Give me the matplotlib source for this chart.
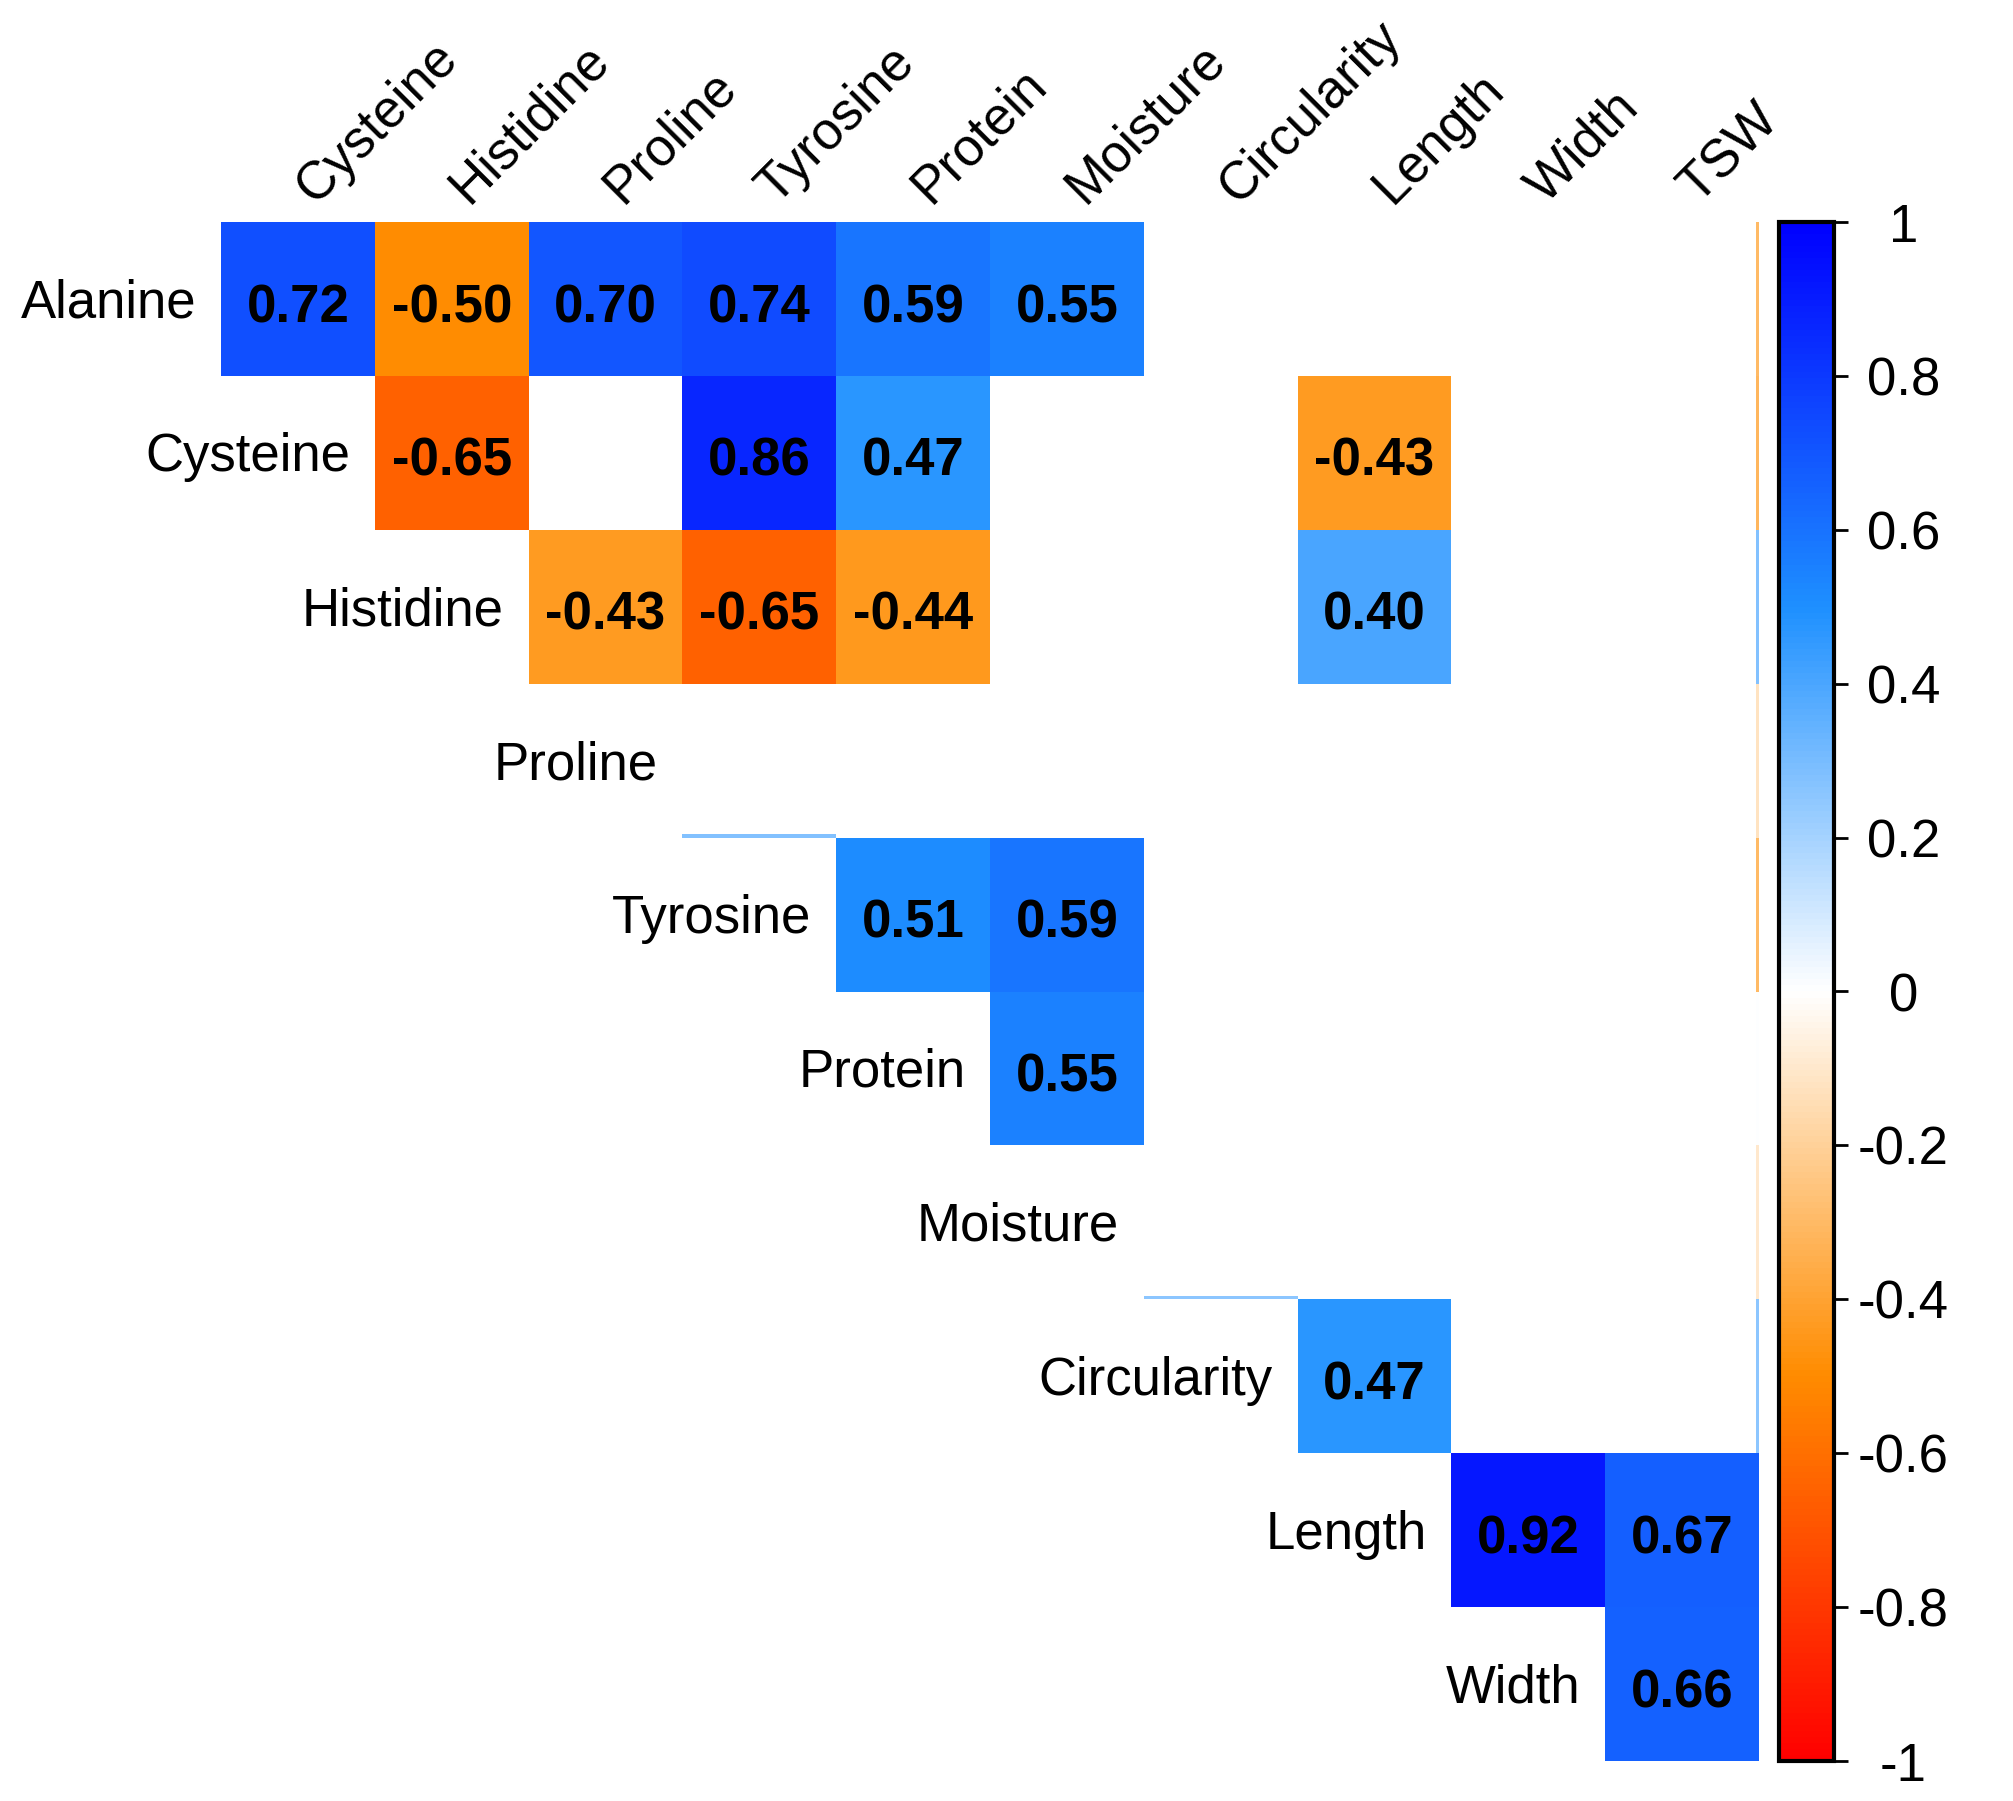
import numpy as np
import matplotlib
matplotlib.use("Agg")
import matplotlib.pyplot as plt
from matplotlib.colors import LinearSegmentedColormap, Normalize
from matplotlib.patches import Rectangle
import matplotlib.colorbar as mcolorbar

plt.rcParams['font.family'] = ['Liberation Sans', 'DejaVu Sans']

row_labels = ["Alanine", "Cysteine", "Histidine", "Proline", "Tyrosine",
              "Protein", "Moisture", "Circularity", "Length", "Width"]
col_labels = ["Cysteine", "Histidine", "Proline", "Tyrosine", "Protein",
              "Moisture", "Circularity", "Length", "Width", "TSW"]

# significant correlations: (row, column, value)
sig_rows = [0, 0, 0, 0, 0, 0, 1, 1, 1, 1, 2, 2, 2, 2, 4, 4, 5, 7, 8, 8, 9]
sig_cols = [0, 1, 2, 3, 4, 5, 1, 3, 4, 7, 2, 3, 4, 7, 4, 5, 5, 7, 8, 9, 9]
sig_vals = [0.72, -0.50, 0.70, 0.74, 0.59, 0.55,
            -0.65, 0.86, 0.47, -0.43,
            -0.43, -0.65, -0.44, 0.40,
            0.51, 0.59,
            0.55,
            0.47,
            0.92, 0.67,
            0.66]

# faint edge slivers of non-significant cells (rendering remnants)
vsliver_rows = [0, 1, 2, 3, 4, 5, 6, 7]
vsliver_vals = [-0.30, -0.32, 0.28, -0.12, -0.30, 0.0, -0.10, 0.25]
hsliver_rows = [3, 6]
hsliver_cols = [3, 6]
hsliver_vals = [0.28, 0.25]

cbar_ticks = [-1, -0.8, -0.6, -0.4, -0.2, 0, 0.2, 0.4, 0.6, 0.8, 1]

cmap = LinearSegmentedColormap.from_list(
    "corr", ["#FF0000", "#FF8C00", "#FFFFFF", "#1E90FF", "#0000FF"], N=256)
norm = Normalize(-1, 1)

W, H = 2013, 1801
fig = plt.figure(figsize=(W / 100, H / 100), dpi=100)
gx0, gx1, gy0, gy1 = 221, 1759, 222, 1761
ax = fig.add_axes([gx0 / W, 1 - gy1 / H, (gx1 - gx0) / W, (gy1 - gy0) / H])
n = len(col_labels)
ax.set_xlim(0, n)
ax.set_ylim(len(row_labels), 0)
ax.axis('off')

mat = np.full((len(row_labels), n), np.nan)
for r, c, v in zip(sig_rows, sig_cols, sig_vals):
    mat[r, c] = v
ax.pcolormesh(np.arange(n + 1), np.arange(len(row_labels) + 1),
              np.ma.masked_invalid(mat), cmap=cmap, norm=norm,
              edgecolors='none', antialiased=False)

sw = 0.022
for r, v in zip(vsliver_rows, vsliver_vals):
    ax.add_patch(Rectangle((n - sw, r), sw, 1, facecolor=cmap(norm(v)),
                           edgecolor='none'))
for r, c, v in zip(hsliver_rows, hsliver_cols, hsliver_vals):
    ax.add_patch(Rectangle((c, r + 1 - sw), 1, sw, facecolor=cmap(norm(v)),
                           edgecolor='none'))

fs = 38
for r, c, v in zip(sig_rows, sig_cols, sig_vals):
    ax.text(c + 0.5, r + 0.65, f"{v:.2f}", ha='center', va='baseline',
            fontsize=fs, fontweight='bold', color='black')

for i, lab in enumerate(row_labels):
    ax.text(i - 0.16, i + 0.62, lab, ha='right', va='baseline', fontsize=fs,
            color='black')

for j, lab in enumerate(col_labels):
    ax.text(j + 0.5 + 0.11, -0.11, lab, ha='left', va='baseline',
            rotation=45, rotation_mode='anchor', fontsize=fs, color='black',
            clip_on=False)

# colorbar
cax = fig.add_axes([1779 / W, 1 - gy1 / H, (1834 - 1779) / W, (gy1 - gy0) / H])
cb = mcolorbar.ColorbarBase(cax, cmap=cmap, norm=norm, orientation='vertical')
cb.outline.set_linewidth(3)
cb.outline.set_edgecolor('black')
cb.set_ticks(cbar_ticks)
cb.set_ticklabels([f"{t:g}" for t in cbar_ticks])
cax.tick_params(axis='y', length=10, width=2, pad=40, labelsize=fs,
                direction='out')
for t in cax.get_yticklabels():
    t.set_horizontalalignment('center')

fig.savefig("out.png", dpi=100, facecolor='white')
